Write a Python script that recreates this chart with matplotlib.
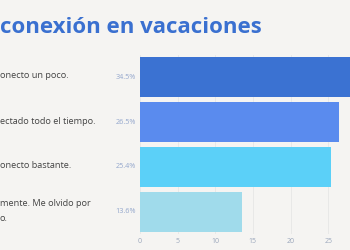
import matplotlib.pyplot as plt

# datos (recortado por la izquierda)
titulo = "conexión en vacaciones"
etiquetas = ["onecto un poco.", "ectado todo el tiempo.", "onecto bastante.",
             "mente. Me olvido por\no."]
valores = [34.5, 26.5, 25.4, 13.6]
colores = ["#3b72d2", "#5a8bee", "#5bd0f8", "#a0dbeb"]
ticks = [0, 5, 10, 15, 20, 25]

fondo = "#f5f4f2"
plt.rcParams['font.family'] = ['Open Sans', 'DejaVu Sans']

fig = plt.figure(figsize=(3.5, 2.5), dpi=100, facecolor=fondo)
ax = fig.add_axes([0.4, 0.064, 0.6, 0.716])
ax.set_facecolor(fondo)

pos = list(range(len(valores)))
ax.barh(pos, valores, height=0.89, color=colores, zorder=2)
ax.set_ylim(3.489, -0.489)
ax.set_xlim(0, 27.9)

ax.set_xticks(ticks)
ax.set_xticklabels([str(t) for t in ticks])
ax.tick_params(axis='x', length=0, pad=3, labelsize=5, labelcolor="#9aa6bb")
ax.set_yticks([])
ax.grid(axis='x', color="#e6e6e6", linewidth=0.6, zorder=0)
for s in ax.spines.values():
    s.set_visible(False)

# porcentajes a la izquierda de las barras
for p, v in zip(pos, valores):
    ax.text(-0.55, p, f"{v}%", ha='right', va='center', fontsize=5.2,
            color="#93a6cc")

# textos de las respuestas (empiezan en el borde del recorte)
for p, t in zip(pos, etiquetas):
    fig.text(0.0, 1 - (76 + 45 * p) / 250, t, ha='left', va='center',
             fontsize=6.6, color="#444444", linespacing=1.75,
             transform=fig.transFigure)

fig.text(0.0, 1 - 33 / 250, titulo, ha='left', va='baseline', fontsize=16,
         fontweight='bold', color="#3a70d0")

fig.savefig("out.png", dpi=100, facecolor=fondo)
